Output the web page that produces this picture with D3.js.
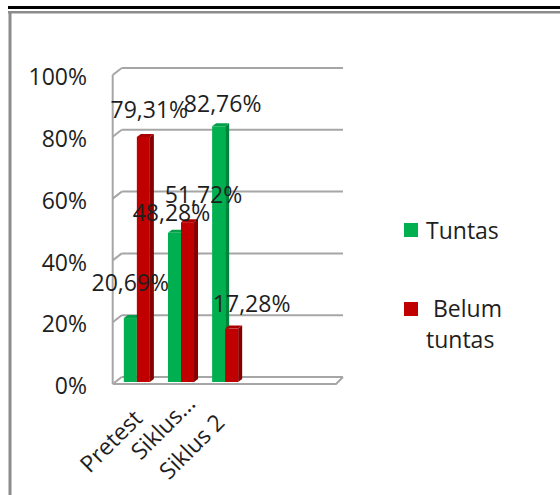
<!DOCTYPE html>
<html>
<head>
<meta charset="utf-8">
<script src="https://cdnjs.cloudflare.com/ajax/libs/d3/7.8.5/d3.min.js"></script>
<style>
  html, body { margin: 0; padding: 0; background: #fff; }
  svg { display: block; }
</style>
</head>
<body>
<div id="chart"></div>
<script>
// Chart data
const categories = ['Pretest', 'Siklus...', 'Siklus 2'];
const seriesNames = ['Tuntas', 'Belum tuntas'];
const tuntasValues = [0.2069, 0.4828, 0.8276];
const belumValues = [0.7931, 0.5172, 0.1728];
const valueLabels = [['20,69%', '48,28%', '82,76%'], ['79,31%', '51,72%', '17,28%']];
const yTicks = [0, 0.2, 0.4, 0.6, 0.8, 1];

// Layout tweaks (label nudges, px)
const labelNudge = [
  [[0, -35], [-3, -20], [4, -23]],
  [[6, -27], [16, -27], [20, -25]]
];
const catNudge = [[1, -3], [10, -18], [-5, 1]];

const W = 560, H = 495;
const colors = {
  front: ['#00b050', '#c00000'],
  side: ['#00853c', '#860000'],
  top: ['#00a04a', '#a80000'],
  grid: '#a6a6a6',
  text: '#1e1e1e'
};
const font = "'Open Sans', 'Liberation Sans', Arial, sans-serif";
const fs = 23;

const svg = d3.select('#chart').append('svg')
  .attr('width', W).attr('height', H);

// frame
svg.append('rect').attr('x', 8).attr('y', 6).attr('width', W - 8).attr('height', 3).attr('fill', '#000');
svg.append('rect').attr('x', 8).attr('y', 11).attr('width', W - 8).attr('height', 2.5).attr('fill', '#8c8c8c');
svg.append('rect').attr('x', 8.5).attr('y', 11).attr('width', 3).attr('height', H - 11).attr('fill', '#8c8c8c');

// scales: back wall
const y = d3.scaleLinear().domain([0, 1]).range([377, 68]);
const x = d3.scaleBand().domain(categories).range([115, 247]).paddingInner(0.41).paddingOuter(0.2);
const xs = d3.scaleBand().domain(seriesNames).range([0, x.bandwidth()]);

const depth = { dx: 9, dy: 7 };   // wall depth
const backLeft = 121.7, backRight = 343;
const frontLeft = backLeft - depth.dx;

const grid = svg.append('g').attr('stroke', colors.grid).attr('stroke-width', 2).attr('fill', 'none');
yTicks.forEach(t => {
  grid.append('line').attr('x1', backLeft).attr('x2', backRight).attr('y1', y(t)).attr('y2', y(t));
  grid.append('line').attr('x1', frontLeft).attr('x2', backLeft).attr('y1', y(t) + depth.dy).attr('y2', y(t));
});
grid.append('line').attr('x1', frontLeft).attr('x2', frontLeft).attr('y1', y(0) + depth.dy).attr('y2', y(1) + depth.dy);
grid.append('path').attr('d', `M${frontLeft},${y(0) + depth.dy}H${backRight - depth.dx + 2}L${backRight},${y(0)}`);

// y tick labels
svg.append('g').selectAll('text').data(yTicks).join('text')
  .attr('x', 87).attr('y', d => y(d) + depth.dy + 2)
  .attr('dy', '0.36em')
  .attr('text-anchor', 'end')
  .attr('font-family', font).attr('font-size', fs)
  .attr('fill', colors.text)
  .text(d => d3.format('.0%')(d));

// bars
const barDy = 5, bd = { dx: 4, dy: 3 };
const seriesValues = [tuntasValues, belumValues];
const bars = svg.append('g');
seriesValues.forEach((vals, si) => {
  vals.forEach((v, ci) => {
    const x0 = x(categories[ci]) + xs(seriesNames[si]);
    const w = xs.bandwidth();
    const y0 = y(0) + barDy, y1 = y(v) + barDy;
    const g = bars.append('g');
    g.append('path').attr('fill', colors.side[si])
      .attr('d', `M${x0 + w},${y0}L${x0 + w + bd.dx},${y0 - bd.dy}L${x0 + w + bd.dx},${y1 - bd.dy}L${x0 + w},${y1}Z`);
    g.append('path').attr('fill', colors.top[si])
      .attr('d', `M${x0},${y1}L${x0 + bd.dx},${y1 - bd.dy}L${x0 + w + bd.dx},${y1 - bd.dy}L${x0 + w},${y1}Z`);
    g.append('rect').attr('fill', colors.front[si])
      .attr('x', x0).attr('y', y1).attr('width', w).attr('height', y0 - y1);
  });
});

// value labels
const labels = svg.append('g');
seriesValues.forEach((vals, si) => {
  vals.forEach((v, ci) => {
    const cx = x(categories[ci]) + xs(seriesNames[si]) + xs.bandwidth() / 2;
    const ty = y(v) + barDy;
    labels.append('text')
      .attr('x', cx + labelNudge[si][ci][0])
      .attr('y', ty + labelNudge[si][ci][1])
      .attr('dy', '0.36em')
      .attr('text-anchor', 'middle')
      .attr('font-family', font).attr('font-size', fs)
      .attr('fill', colors.text)
      .text(valueLabels[si][ci]);
  });
});

// category labels
svg.append('g').selectAll('text').data(categories).join('text')
  .attr('transform', (d, i) => {
    const px = x(d) + x.bandwidth() / 2 + catNudge[i][0];
    const py = 417 + catNudge[i][1];
    return `translate(${px},${py}) rotate(-45)`;
  })
  .attr('dy', '0.36em')
  .attr('text-anchor', 'end')
  .attr('font-family', font).attr('font-size', fs)
  .attr('fill', colors.text)
  .text(d => d);

// legend
const legend = svg.append('g');
legend.append('rect').attr('x', 404).attr('y', 223).attr('width', 14).attr('height', 14).attr('fill', colors.front[0]);
legend.append('text').attr('x', 426).attr('y', 239).attr('font-family', font).attr('font-size', fs)
  .attr('fill', colors.text).text(seriesNames[0]);
legend.append('rect').attr('x', 404).attr('y', 302).attr('width', 14).attr('height', 14).attr('fill', colors.front[1]);
const lt = legend.append('text').attr('font-family', font).attr('font-size', fs).attr('fill', colors.text);
const words = seriesNames[1].split(' ');
lt.append('tspan').attr('x', 433).attr('y', 317).text(words[0]);
lt.append('tspan').attr('x', 426).attr('y', 348).text(words[1]);
</script>
</body>
</html>
